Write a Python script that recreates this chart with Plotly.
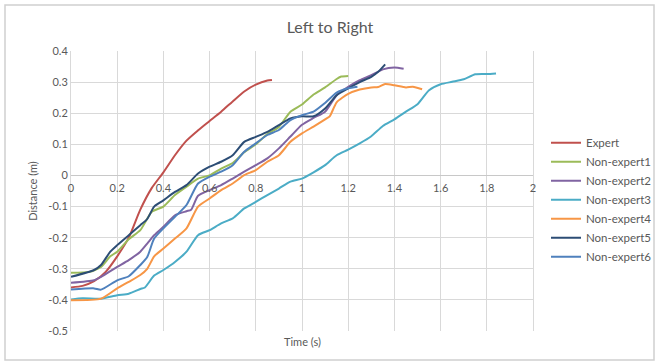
import plotly.graph_objects as go

# ---------------- data ----------------
expert_t = [0, 0.05, 0.1, 0.15, 0.2, 0.25, 0.3, 0.35, 0.4, 0.45, 0.5, 0.55, 0.6, 0.65, 0.7, 0.75, 0.8, 0.85, 0.87]
expert_d = [-0.36, -0.355, -0.34, -0.31, -0.26, -0.20, -0.11, -0.04, 0.01, 0.065, 0.112, 0.145, 0.175, 0.205, 0.238, 0.27, 0.292, 0.305, 0.307]

ne1_t = [0, 0.08, 0.13, 0.17, 0.2, 0.25, 0.3, 0.35, 0.4, 0.45, 0.5, 0.55, 0.6, 0.65, 0.7, 0.75, 0.8, 0.85, 0.9, 0.95, 1.0, 1.05, 1.1, 1.15, 1.17, 1.2]
ne1_d = [-0.313, -0.31, -0.294, -0.26, -0.245, -0.205, -0.176, -0.117, -0.10, -0.063, -0.036, -0.01, 0.0, 0.022, 0.04, 0.075, 0.10, 0.133, 0.156, 0.205, 0.228, 0.26, 0.283, 0.31, 0.318, 0.32]

ne2_t = [0, 0.1, 0.13, 0.2, 0.25, 0.3, 0.33, 0.36, 0.4, 0.45, 0.5, 0.52, 0.55, 0.6, 0.65, 0.7, 0.75, 0.8, 0.85, 0.9, 0.95, 1.0, 1.05, 1.1, 1.15, 1.2, 1.25, 1.3, 1.35, 1.4, 1.44]
ne2_d = [-0.345, -0.337, -0.326, -0.294, -0.272, -0.245, -0.219, -0.192, -0.165, -0.128, -0.115, -0.11, -0.065, -0.047, -0.031, -0.01, 0.012, 0.033, 0.055, 0.087, 0.125, 0.163, 0.185, 0.205, 0.258, 0.285, 0.306, 0.322, 0.341, 0.347, 0.343]

ne3_t = [0, 0.05, 0.13, 0.2, 0.25, 0.3, 0.32, 0.36, 0.4, 0.45, 0.5, 0.55, 0.6, 0.65, 0.7, 0.75, 0.8, 0.85, 0.9, 0.95, 1.0, 1.05, 1.1, 1.15, 1.2, 1.25, 1.3, 1.35, 1.4, 1.45, 1.5, 1.55, 1.6, 1.65, 1.7, 1.75, 1.8, 1.84]
ne3_d = [-0.399, -0.395, -0.396, -0.385, -0.38, -0.365, -0.36, -0.322, -0.304, -0.278, -0.245, -0.192, -0.176, -0.154, -0.138, -0.106, -0.085, -0.063, -0.042, -0.02, -0.01, 0.01, 0.033, 0.065, 0.083, 0.103, 0.126, 0.159, 0.18, 0.205, 0.229, 0.274, 0.293, 0.301, 0.309, 0.325, 0.326, 0.328]

ne4_t = [0, 0.13, 0.2, 0.25, 0.3, 0.33, 0.36, 0.4, 0.45, 0.5, 0.55, 0.6, 0.65, 0.7, 0.75, 0.8, 0.85, 0.9, 0.95, 1.0, 1.05, 1.1, 1.12, 1.15, 1.2, 1.25, 1.3, 1.33, 1.36, 1.4, 1.45, 1.48, 1.52]
ne4_d = [-0.401, -0.396, -0.363, -0.342, -0.32, -0.30, -0.26, -0.235, -0.203, -0.17, -0.10, -0.074, -0.047, -0.026, 0.001, 0.017, 0.044, 0.065, 0.108, 0.135, 0.157, 0.18, 0.19, 0.235, 0.262, 0.276, 0.283, 0.284, 0.294, 0.29, 0.283, 0.285, 0.277]

ne5_t = [0, 0.1, 0.13, 0.17, 0.2, 0.25, 0.3, 0.33, 0.36, 0.4, 0.45, 0.5, 0.55, 0.6, 0.65, 0.7, 0.75, 0.8, 0.85, 0.9, 0.95, 1.0, 1.05, 1.1, 1.15, 1.2, 1.25, 1.3, 1.33, 1.36]
ne5_d = [-0.326, -0.304, -0.288, -0.245, -0.224, -0.192, -0.16, -0.14, -0.10, -0.08, -0.053, -0.031, 0.006, 0.028, 0.044, 0.065, 0.108, 0.124, 0.14, 0.162, 0.183, 0.19, 0.19, 0.215, 0.258, 0.28, 0.30, 0.317, 0.333, 0.357]

ne6_t = [0, 0.1, 0.13, 0.2, 0.25, 0.3, 0.33, 0.36, 0.4, 0.45, 0.5, 0.55, 0.6, 0.65, 0.7, 0.75, 0.8, 0.85, 0.9, 0.95, 1.0, 1.05, 1.1, 1.15, 1.2, 1.24]
ne6_d = [-0.367, -0.363, -0.367, -0.337, -0.324, -0.288, -0.262, -0.203, -0.17, -0.133, -0.095, -0.026, -0.004, 0.012, 0.033, 0.076, 0.103, 0.13, 0.146, 0.178, 0.194, 0.205, 0.233, 0.266, 0.28, 0.285]

series_names = ["Expert", "Non-expert1", "Non-expert2", "Non-expert3", "Non-expert4", "Non-expert5", "Non-expert6"]
series_t = [expert_t, ne1_t, ne2_t, ne3_t, ne4_t, ne5_t, ne6_t]
series_d = [expert_d, ne1_d, ne2_d, ne3_d, ne4_d, ne5_d, ne6_d]
series_colors = ["#C0504D", "#9BBB59", "#8064A2", "#4BACC6", "#F79646", "#2C4D75", "#4F81BD"]

x_ticks = [0, 0.2, 0.4, 0.6, 0.8, 1, 1.2, 1.4, 1.6, 1.8, 2]
x_tick_text = ["0", "0.2", "0.4", "0.6", "0.8", "1", "1.2", "1.4", "1.6", "1.8", "2"]
y_ticks = [-0.5, -0.4, -0.3, -0.2, -0.1, 0, 0.1, 0.2, 0.3, 0.4]
y_tick_text = ["-0.5", "-0.4", "-0.3", "-0.2", "-0.1", "0", "0.1", "0.2", "0.3", "0.4"]

# ---------------- figure ----------------
FONT = "Lato, 'Open Sans', sans-serif"
GRID = "#D9D9D9"
TXT = "#595959"

fig = go.Figure()
for name, t, d, c in zip(series_names, series_t, series_d, series_colors):
    fig.add_trace(go.Scatter(x=t, y=d, mode="lines", name=name,
                             line=dict(color=c, width=2, shape="spline", smoothing=0.6)))

y_min, y_max = -0.5, 0.4
zero_pos = (0 - y_min) / (y_max - y_min)

fig.update_layout(
    width=657, height=362,
    margin=dict(l=71, r=124, t=51, b=31, autoexpand=False),
    paper_bgcolor="white", plot_bgcolor="white",
    font=dict(family=FONT, color=TXT, size=11),
    title=dict(text="Left to Right", x=330 / 657, xanchor="center",
               y=1 - 27 / 362, yanchor="middle",
               font=dict(family=FONT, size=16, color=TXT)),
    xaxis=dict(range=[0, 2], tickvals=x_ticks, ticktext=x_tick_text,
               showgrid=True, gridcolor=GRID, gridwidth=1,
               zeroline=False, showline=False, ticks="",
               anchor="free", position=zero_pos, ticklabelstandoff=5,
               tickfont=dict(size=11, color=TXT)),
    yaxis=dict(range=[y_min, y_max], tickvals=y_ticks, ticktext=y_tick_text,
               showgrid=True, gridcolor=GRID, gridwidth=1,
               zeroline=True, zerolinecolor="#C8C8C8", zerolinewidth=1,
               showline=True, linecolor=GRID, linewidth=1, ticks="",
               mirror=True,
               title=dict(text="Distance (m)", font=dict(size=11, color=TXT), standoff=8),
               tickfont=dict(size=11, color=TXT)),
    legend=dict(x=(546 - 71) / 462, xanchor="left", y=(331 - 199.7) / 280, yanchor="middle",
                font=dict(size=11.5, color=TXT), bgcolor="rgba(0,0,0,0)",
                tracegroupgap=0, itemwidth=30),
    showlegend=True,
)

fig.add_annotation(text="Time (s)", xref="paper", yref="paper", x=0.5, y=-(341 - 331) / 280,
                   xanchor="center", yanchor="middle", showarrow=False,
                   font=dict(family=FONT, size=11, color=TXT))

# chart outer border
fig.add_shape(type="rect", xref="paper", yref="paper",
              x0=(5 - 71) / 462, x1=(654 - 71) / 462,
              y0=-(360 - 331) / 280, y1=1 + (51 - 5) / 280,
              line=dict(color="#D0D0D0", width=1.5), fillcolor="rgba(0,0,0,0)", layer="below")

fig.write_html("out.html")
